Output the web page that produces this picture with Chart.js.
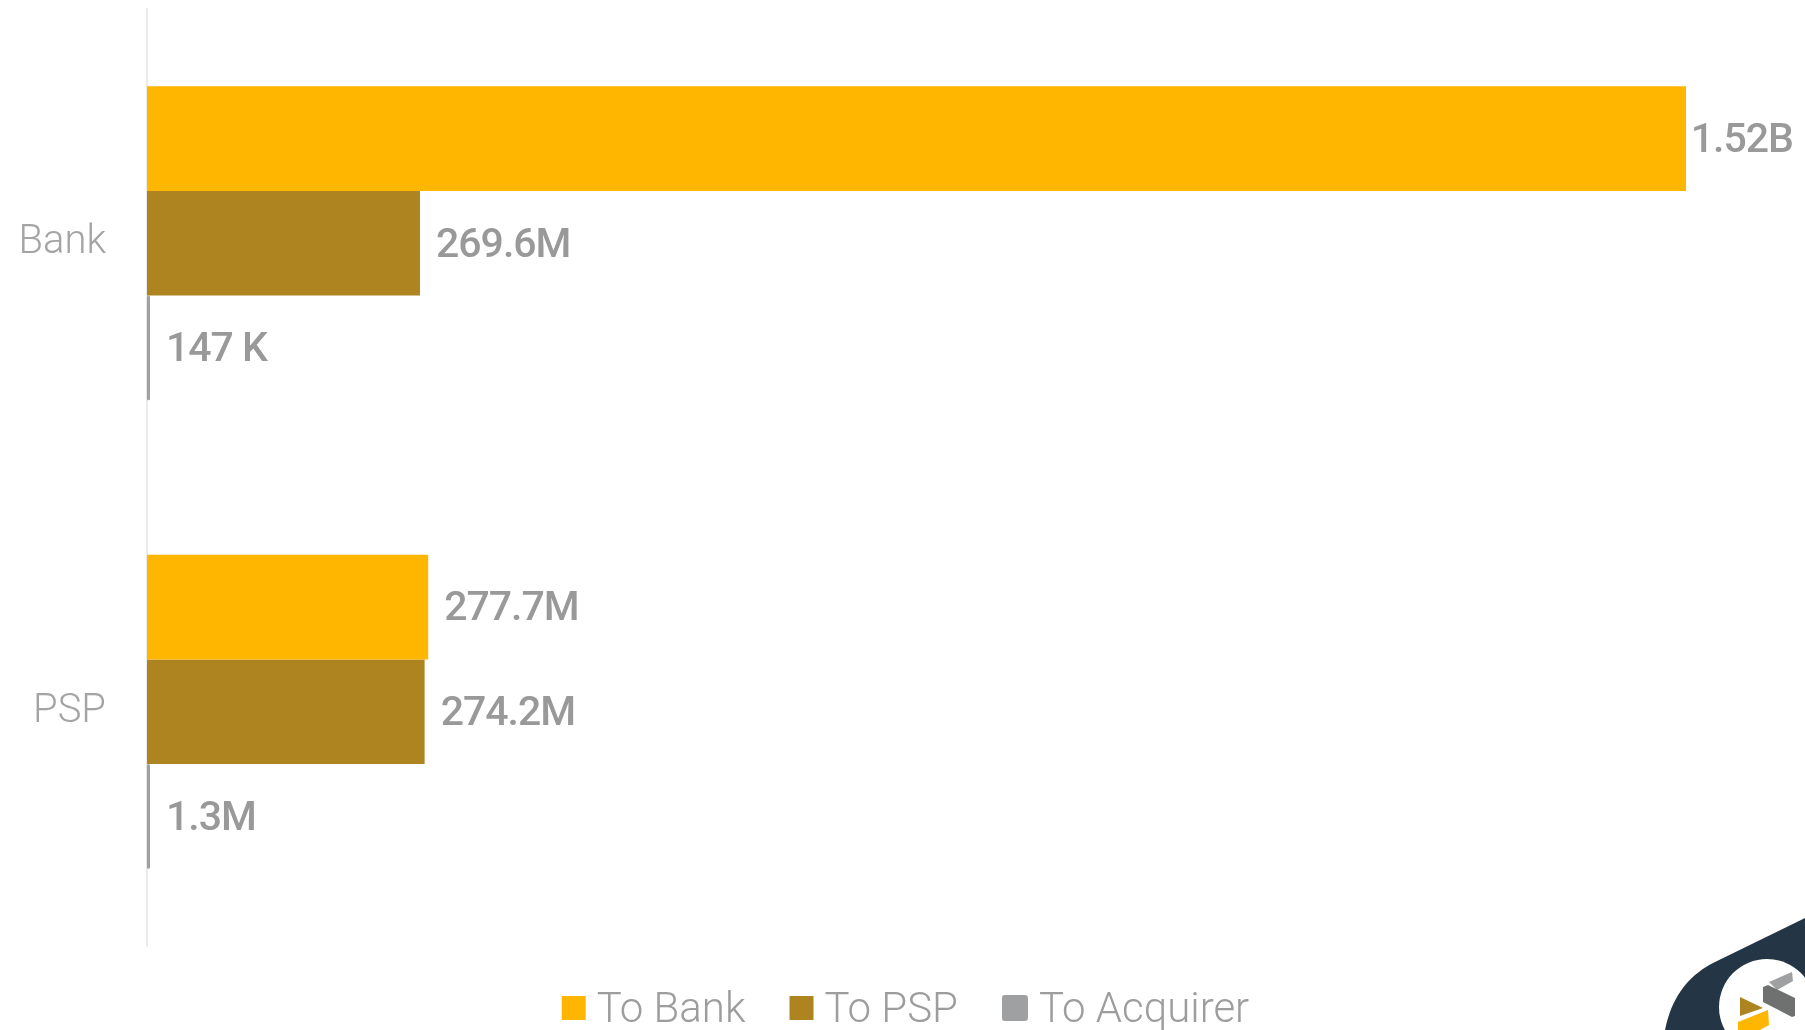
<!DOCTYPE html>
<html>
<head>
<meta charset="utf-8">
<script src="https://cdn.jsdelivr.net/npm/chart.js@4.4.1/dist/chart.umd.min.js"></script>
<style>
  html, body { margin: 0; padding: 0; background: #fff; overflow: hidden; width: 1805px; height: 1030px; }
  #wrap { position: relative; width: 1805px; height: 1030px; }
  #logo { position: absolute; left: 0; top: 0; width: 1805px; height: 1030px; pointer-events: none; }
</style>
</head>
<body>
<div id="wrap">
  <canvas id="chart"></canvas>
</div>
<svg id="logo" viewBox="0 0 1805 1030">
  <!-- marca no canto inferior direito -->
  <path d="M1665 1030 C1672 995 1690 975 1713 963 L1805 918 L1805 1030 Z" fill="#243645"/>
  <circle cx="1767" cy="1007" r="48" fill="#fff"/>
  <polygon points="1769,982 1792,972 1793,981 1777,990" fill="#9ea0a1"/>
  <polygon points="1763,987 1768,985 1795,998 1795,1016 1792,1017 1763,1002" fill="#6f7170"/>
  <polygon points="1740,997 1763,1008 1740,1016" fill="#ad8420"/>
  <polygon points="1738,1022 1768,1010 1769,1025 1760,1030 1738,1030" fill="#ffb600"/>
</svg>
<script>
// categorias e séries
const categorias = ["Bank", "PSP"];
const toBank = [1520000000, 277700000];
const toPSP = [269600000, 274200000];
const toAcquirer = [147000, 1300000];
const nomesSeries = ["To Bank", "To PSP", "To Acquirer"];
const cores = ["#ffb600", "#ad8420", "#9ea0a1"];

function formatarValor(v) {
    if (v >= 1e9) return (v / 1e9).toFixed(2) + "B";
    if (v >= 1e6) return (v / 1e6).toFixed(1) + "M";
    return Math.round(v / 1e3) + " K";
}

// rótulos no fim de cada barra
const rotulosBarras = {
    id: "rotulosBarras",
    afterDatasetsDraw(chart) {
        const ctx = chart.ctx;
        ctx.save();
        ctx.font = "500 41px Roboto";
        ctx.letterSpacing = "-1px";
        ctx.fillStyle = "#999999";
        ctx.textAlign = "left";
        ctx.textBaseline = "middle";
        chart.data.datasets.forEach((ds, i) => {
            const meta = chart.getDatasetMeta(i);
            meta.data.forEach((el, j) => {
                const txt = formatarValor(ds.data[j]);
                const w = ctx.measureText(txt).width;
                // não deixa o rótulo sair do canvas
                const x = Math.min(el.x + 16, chart.width - 12 - w);
                ctx.fillText(txt, x, el.y + 3);
            });
        });
        ctx.restore();
    }
};

// legenda desenhada à mão (espaçamento igual ao original)
const legendaBaixo = {
    id: "legendaBaixo",
    afterDraw(chart) {
        const ctx = chart.ctx;
        ctx.save();
        ctx.font = "300 42px Roboto";
        ctx.textBaseline = "middle";
        ctx.textAlign = "left";
        const box = [24, 24, 26], gap = 11, entre = 44, yc = 1008;
        const larguras = nomesSeries.map((n) => ctx.measureText(n).width);
        let total = 0;
        larguras.forEach((w, i) => { total += box[i] + gap + w; });
        total += entre * (nomesSeries.length - 1);
        let x = (chart.width - total) / 2 + 3;
        nomesSeries.forEach((n, i) => {
            ctx.fillStyle = cores[i];
            ctx.beginPath();
            ctx.roundRect(x, yc - box[i] / 2, box[i], box[i], i === 2 ? 3 : 0);
            ctx.fill();
            x += box[i] + gap;
            ctx.fillStyle = "#9d9d9d";
            ctx.fillText(n, x, yc + 3);
            x += larguras[i] + entre;
        });
        ctx.restore();
    }
};

const series = [toBank, toPSP, toAcquirer];

new Chart(document.getElementById("chart"), {
    type: "bar",
    data: {
        labels: categorias,
        datasets: series.map((d, i) => ({
            label: nomesSeries[i],
            data: d,
            backgroundColor: cores[i],
            borderWidth: 0,
            borderRadius: i === 2 ? 2 : 0,
            borderSkipped: false,
            minBarLength: i === 2 ? 3 : 0,
            categoryPercentage: 0.67,
            barPercentage: 1.0
        }))
    },
    options: {
        indexAxis: "y",
        responsive: true,
        maintainAspectRatio: false,
        animation: false,
        layout: { padding: { top: 9, right: 38, left: 0, bottom: 84 } },
        scales: {
            x: { display: false, min: 0, max: 1600000000 },
            y: {
                afterFit: (s) => { s.width = 147; s.paddingTop = 0; s.paddingBottom = 0; },
                grid: { display: false, drawTicks: false },
                border: { display: true, color: "#ebebeb", width: 2 },
                ticks: { color: "#a4a4a4", padding: 41, font: { family: "Roboto", size: 40, weight: "300" } }
            }
        },
        plugins: {
            legend: { display: false },
            tooltip: { enabled: false }
        }
    },
    plugins: [rotulosBarras, legendaBaixo]
});
</script>
</body>
</html>
